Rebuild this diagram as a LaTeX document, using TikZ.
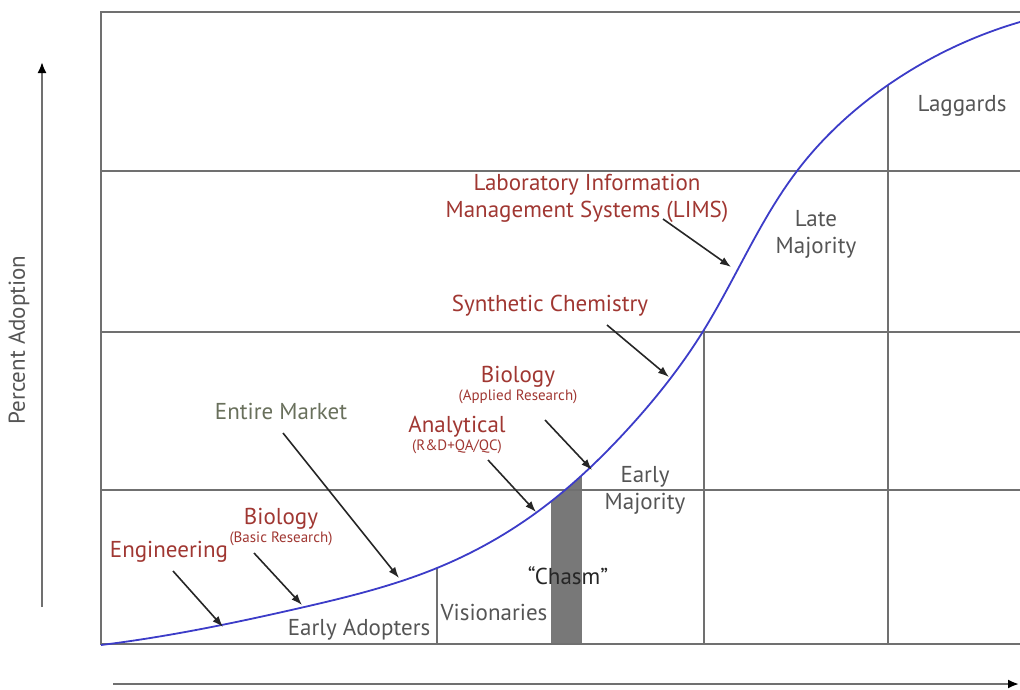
\documentclass[tikz,border=0pt]{standalone}
\usepackage{fontspec}
\setmainfont{PT Sans}
\usetikzlibrary{arrows.meta,hobby}
\definecolor{gridgray}{RGB}{112,112,112}
\definecolor{curveblue}{RGB}{60,60,200}
\definecolor{labred}{RGB}{160,55,50}
\definecolor{txtgray}{RGB}{85,85,85}
\definecolor{mktgreen}{RGB}{105,112,92}
\definecolor{chasmgray}{RGB}{120,120,120}
\tikzset{
  gridline/.style={draw=gridgray, line width=2.6pt},
  pointer/.style={draw=black!85, line width=1.6pt, -{Latex[length=11pt,width=8pt]}},
  axisarrow/.style={draw=gridgray, line width=2pt, -{Latex[length=11pt,width=9pt,color=black]}},
  redlab/.style={text=labred, font=\fontsize{23}{26}\selectfont, inner sep=0pt},
  redsub/.style={text=labred, font=\fontsize{15}{17}\selectfont, inner sep=0pt},
  graylab/.style={text=txtgray, font=\fontsize{23}{27}\selectfont, inner sep=0pt, align=center},
}
\begin{document}
\begin{tikzpicture}[x=1pt,y=-1pt]
\useasboundingbox (0,0) rectangle (1020,689);
% vertical dividers and chasm, clipped below the curve
\begin{scope}
  \clip[use Hobby shortcut] ([out angle=7]101,645) .. (300,608) .. (437,568) .. (533,515) .. (627,430) .. (702,333) .. (797,171) .. (888,85) .. (1020,22) -- (1030,650) -- (95,650) -- cycle;
  \fill[chasmgray] (551,300) rectangle (582,644);
  \draw[gridline] (437,300) -- (437,644);
  \draw[gridline] (704,300) -- (704,644);
  \draw[gridline] (888,40) -- (888,644);
\end{scope}
% grid
\draw[gridline] (1022,12) -- (101,12) -- (101,644) -- (1022,644);
\draw[gridline] (101,171) -- (1022,171);
\draw[gridline] (101,332) -- (1022,332);
\draw[gridline] (101,490) -- (1022,490);
% curve
\draw[curveblue, line width=1.8pt, use Hobby shortcut] ([out angle=7]101,645) .. (300,608) .. (437,568) .. (533,515) .. (627,430) .. (702,333) .. (797,171) .. (888,85) .. (1020,22);
% axes
\coordinate (yb) at (42,607);
\coordinate (yt) at (42,62);
\coordinate (xl) at (113,684);
\coordinate (xr) at (1019,684);
\draw[axisarrow] (yb) -- (yt);
\draw[axisarrow] (xl) -- (xr);
\node[text=txtgray, font=\fontsize{23}{26}\selectfont, rotate=90] (ylab) at (19,340) {Percent Adoption};
% segment labels
\node[graylab] (lag) at (962,106) {Laggards};
\node[graylab] (late) at (816,234) {Late\\Majority};
\node[graylab] (early) at (645,490) {Early\\Majority};
\node[graylab] (vis) at (494,612) {Visionaries};
\node[graylab] (ead) at (359,630) {Early Adopters};
\node[text=black!85, font=\fontsize{23}{26}\selectfont, inner sep=0pt] (chasm) at (568,576) {“Chasm”};
% application labels
\node[redlab] (eng) at (169,552) {Engineering};
\node[redlab] (bio1) at (281,519) {Biology};
\node[redsub] (bio1s) at (281,539) {(Basic Research)};
\node[text=mktgreen, font=\fontsize{23}{26}\selectfont, inner sep=0pt] (mkt) at (281,411) {Entire Market};
\node[redlab] (ana) at (457,427) {Analytical};
\node[redsub] (anas) at (457,447) {(R\&D+QA/QC)};
\node[redlab] (bio2) at (518,377) {Biology};
\node[redsub] (bio2s) at (518,397) {(Applied Research)};
\node[redlab] (syn) at (550,306) {Synthetic Chemistry};
\node[redlab] (lims1) at (587,185) {Laboratory Information};
\node[redlab] (lims2) at (587,212) {Management Systems (LIMS)};
% pointer endpoints on curve
\coordinate (engS) at (173,571); \coordinate (engE) at (223,627);
\coordinate (bio1S) at (254,553); \coordinate (bio1E) at (302,605);
\coordinate (mktS) at (283,433); \coordinate (mktE) at (399,578);
\coordinate (anaS) at (488,460); \coordinate (anaE) at (536,512);
\coordinate (bio2S) at (545,420); \coordinate (bio2E) at (592,470);
\coordinate (synS) at (607,325); \coordinate (synE) at (669,377);
\coordinate (limsS) at (663,219); \coordinate (limsE) at (731,267);
\draw[pointer] (engS) -- (engE);
\draw[pointer] (bio1S) -- (bio1E);
\draw[pointer] (mktS) -- (mktE);
\draw[pointer] (anaS) -- (anaE);
\draw[pointer] (bio2S) -- (bio2E);
\draw[pointer] (synS) -- (synE);
\draw[pointer] (limsS) -- (limsE);
\end{tikzpicture}
\end{document}
